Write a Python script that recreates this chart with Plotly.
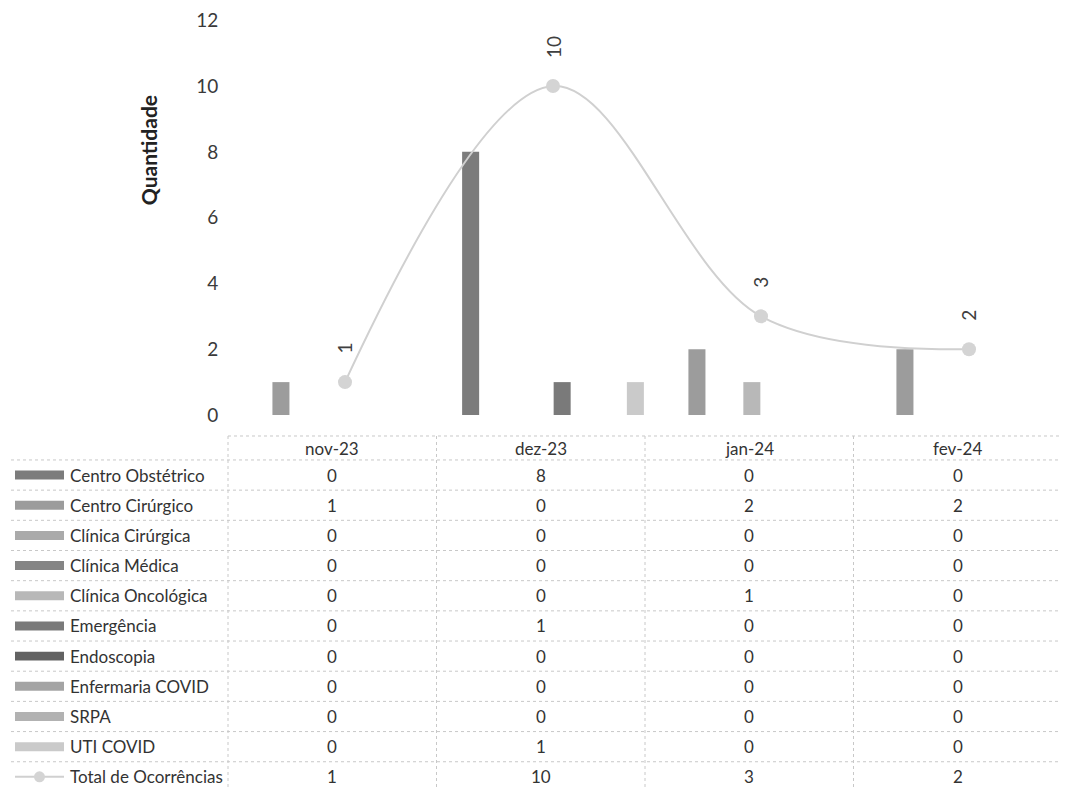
import plotly.graph_objects as go

months = ["nov-23", "dez-23", "jan-24", "fev-24"]
series_names = ["Centro Obstétrico", "Centro Cirúrgico", "Clínica Cirúrgica", "Clínica Médica",
                "Clínica Oncológica", "Emergência", "Endoscopia", "Enfermaria COVID", "SRPA", "UTI COVID"]
centro_obstetrico = [0, 8, 0, 0]
centro_cirurgico = [1, 0, 2, 2]
clinica_cirurgica = [0, 0, 0, 0]
clinica_medica = [0, 0, 0, 0]
clinica_oncologica = [0, 0, 1, 0]
emergencia = [0, 1, 0, 0]
endoscopia = [0, 0, 0, 0]
enfermaria_covid = [0, 0, 0, 0]
srpa = [0, 0, 0, 0]
uti_covid = [0, 1, 0, 0]
total_name = "Total de Ocorrências"
total = [1, 10, 3, 2]
y_ticks = [0, 2, 4, 6, 8, 10, 12]

series_values = [centro_obstetrico, centro_cirurgico, clinica_cirurgica, clinica_medica,
                 clinica_oncologica, emergencia, endoscopia, enfermaria_covid, srpa, uti_covid]
colors = ["#7c7c7c", "#9c9c9c", "#aaaaaa", "#858585", "#b8b8b8",
          "#7a7a7a", "#626262", "#a4a4a4", "#b2b2b2", "#cacaca"]
line_color = "#d0d0d0"

FONT = "Lato"
OFF = 8  # page body margin
W, H = 1067 - OFF, 790 - OFF
y_max = 12.1
unit_px = (415 - 20) / 12.0
plot_left, plot_right, plot_bottom = 241, 1062, 415  # in screenshot pixels
plot_top = plot_bottom - unit_px * y_max
L = plot_left - OFF
R = W - (plot_right - OFF)
T = plot_top - OFF
B = H - (plot_bottom - OFF)
PW = W - L - R
PH = H - T - B
cat_px = 208.0


def px_x(x):
    return (x - OFF - L) / PW


def px_y(y):
    return (H - B - (y - OFF)) / PH


fig = go.Figure()
for name, vals, c in zip(series_names, series_values, colors):
    fig.add_trace(go.Bar(x=months, y=vals, name=name, marker=dict(color=c, line=dict(width=0)),
                         showlegend=False))

fig.add_trace(go.Scatter(x=months, y=total, name=total_name, mode="lines+markers",
                         line=dict(color=line_color, width=2, shape="spline"),
                         marker=dict(color="#d4d4d4", size=14), showlegend=False))

annotations = []
for m, v in zip(months, total):
    annotations.append(dict(x=m, y=v, xref="x", yref="y", text=str(v), textangle=-90,
                            showarrow=False, yanchor="bottom", yshift=26,
                            font=dict(family=FONT, size=19, color="#404040")))

annotations.append(dict(x=px_x(148), y=px_y(150), xref="paper", yref="paper", text="<b>Quantidade</b>",
                        textangle=-90, showarrow=False, xanchor="center", yanchor="middle",
                        font=dict(family=FONT, size=21, color="#222222")))

# data table
tbl_left = 5
col0 = 228
col_w = 208.5
header_top = 436
header_bot = 460
row_h = 30.2
n_rows = len(series_names) + 1
tbl_bottom = header_bot + row_h * n_rows
col_edges = [col0 + i * col_w for i in range(len(months) + 1)]
tfont = dict(family=FONT, size=17, color="#333333")
grid = dict(color="#c8c8c8", width=1, dash="dot")

shapes = []
shapes.append(dict(type="line", xref="paper", yref="paper", x0=px_x(col0), x1=px_x(col_edges[-1]),
                   y0=px_y(header_top), y1=px_y(header_top), line=grid))
for k in range(n_rows + 1):
    yy = header_bot + k * row_h
    shapes.append(dict(type="line", xref="paper", yref="paper", x0=px_x(tbl_left), x1=px_x(col_edges[-1]),
                       y0=px_y(yy), y1=px_y(yy), line=grid))
shapes.append(dict(type="line", xref="paper", yref="paper", x0=px_x(tbl_left), x1=px_x(tbl_left),
                   y0=px_y(header_bot), y1=px_y(tbl_bottom), line=grid))
for xe in col_edges:
    shapes.append(dict(type="line", xref="paper", yref="paper", x0=px_x(xe), x1=px_x(xe),
                       y0=px_y(header_top), y1=px_y(tbl_bottom), line=grid))

for i, m in enumerate(months):
    cx = col_edges[i] + col_w / 2
    annotations.append(dict(x=px_x(cx), y=px_y((header_top + header_bot) / 2 + 1), xref="paper", yref="paper",
                            text=m, showarrow=False, xanchor="center", yanchor="middle", font=tfont))

all_names = series_names + [total_name]
all_vals = series_values + [total]
for r, (name, vals) in enumerate(zip(all_names, all_vals)):
    cy = header_bot + r * row_h + row_h / 2
    annotations.append(dict(x=px_x(68), y=px_y(cy), xref="paper", yref="paper", text=name,
                            showarrow=False, xanchor="left", yanchor="middle", font=tfont))
    for i, v in enumerate(vals):
        cx = col_edges[i] + col_w / 2
        annotations.append(dict(x=px_x(cx), y=px_y(cy), xref="paper", yref="paper", text=str(v),
                                showarrow=False, xanchor="center", yanchor="middle", font=tfont))
    if r < len(series_names):
        shapes.append(dict(type="rect", xref="paper", yref="paper", x0=px_x(15), x1=px_x(64),
                           y0=px_y(cy - 4.5), y1=px_y(cy + 4.5), fillcolor=colors[r], line=dict(width=0)))
    else:
        shapes.append(dict(type="line", xref="paper", yref="paper", x0=px_x(15), x1=px_x(64),
                           y0=px_y(cy), y1=px_y(cy), line=dict(color=line_color, width=2)))
        shapes.append(dict(type="circle", xref="paper", yref="paper", x0=px_x(34), x1=px_x(45),
                           y0=px_y(cy - 5.5), y1=px_y(cy + 5.5), fillcolor="#d4d4d4", line=dict(width=0)))

x_hi = -0.5 + PW / cat_px
fig.update_layout(
    width=W, height=H,
    margin=dict(l=L, r=R, t=T, b=B, pad=0, autoexpand=False),
    paper_bgcolor="white", plot_bgcolor="white",
    barmode="group", bargap=0.12, bargroupgap=0.07,
    font=dict(family=FONT, color="#333333"),
    xaxis=dict(type="category", range=[-0.5, x_hi], showticklabels=False, showgrid=False,
               zeroline=False, showline=False, ticks="", automargin=False),
    yaxis=dict(range=[0, y_max], tickvals=y_ticks, showgrid=False, zeroline=False, showline=False,
               ticks="outside", ticklen=18, tickcolor="white", ticklabeloverflow="allow",
               automargin=False,
               tickfont=dict(family=FONT, size=19, color="#3a3a3a")),
    annotations=annotations,
    shapes=shapes,
)

fig.write_html("out.html")
